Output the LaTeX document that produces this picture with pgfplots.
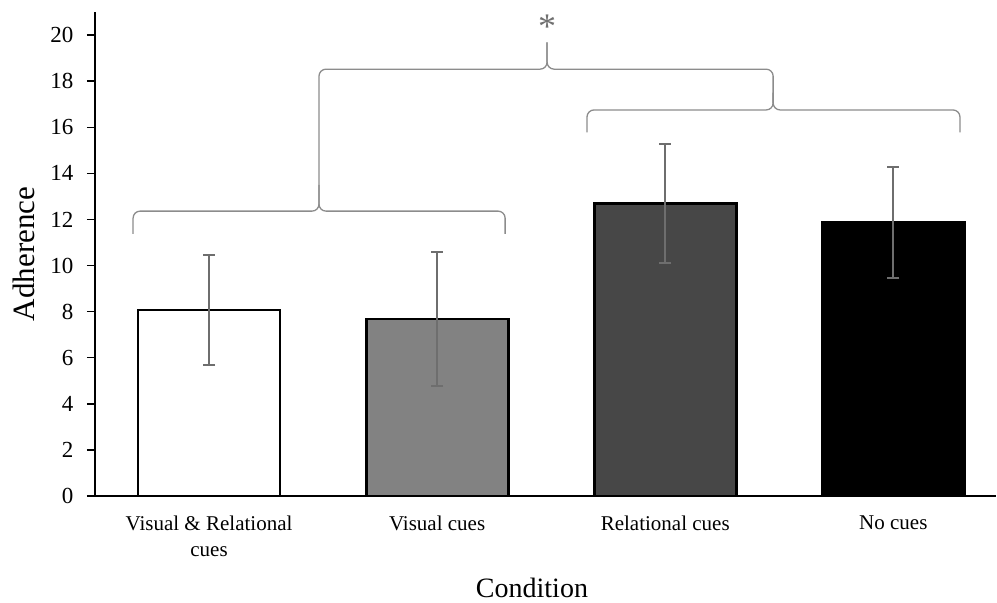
\documentclass[border=0pt]{standalone}
\usepackage{fontspec}
\setmainfont{Liberation Serif}
\usepackage{pgfplots}
\pgfplotsset{compat=1.18}
\definecolor{errgray}{HTML}{6E6E6E}
\definecolor{bracegray}{HTML}{8C8C8C}
\definecolor{bartwo}{HTML}{828282}
\definecolor{barthree}{HTML}{474747}
\definecolor{astgray}{HTML}{707070}
\begin{document}
\begin{tikzpicture}
\useasboundingbox (0,0) rectangle (997pt,603pt);
\begin{axis}[
  at={(95pt,107pt)}, anchor=south west,
  scale only axis, width=901pt, height=484pt,
  xmin=-0.5, xmax=3.45, ymin=0, ymax=21,
  axis lines*=left,
  axis line style={line width=1.6pt, black},
  xtick={0,1,2,3},
  xticklabels={{Visual \& Relational\\cues},{Visual cues},{Relational cues},{No cues}},
  x tick label style={align=center, font=\fontsize{21}{26.7}\selectfont, yshift=-8pt},
  major x tick style={draw=none},
  ytick={0,2,...,20},
  tick align=outside,
  major tick length=8pt,
  major y tick style={line width=1.4pt, black},
  y tick label style={font=\fontsize{23}{26}\selectfont, xshift=-10pt},
  /pgf/number format/assume math mode=true,
  ylabel={Adherence},
  ylabel style={at={(axis description cs:-0.0788,0.5)}, anchor=center, font=\fontsize{31}{36}\selectfont},
  xlabel={Condition},
  xlabel style={at={(axis description cs:0.485,-0.2100)}, anchor=base, inner sep=0pt, font=\fontsize{28}{32}\selectfont},
  ybar, bar width=142pt,
  clip=false,
  error bars/y dir=both, error bars/y explicit,
  error bars/error bar style={line width=2pt, errgray},
  error bars/error mark options={rotate=90, mark size=6pt, line width=2pt, errgray},
]
\addplot[fill=white, draw=black, line width=2.8pt, bar shift=0pt] coordinates {(0,8.07) +- (0,2.40)};
\addplot[fill=bartwo, draw=black, line width=2.8pt, bar shift=0pt] coordinates {(1,7.68) +- (0,2.89)};
\addplot[fill=barthree, draw=black, line width=2.8pt, bar shift=0pt] coordinates {(2,12.69) +- (0,2.58)};
\addplot[fill=black, draw=black, line width=2.8pt, bar shift=0pt] coordinates {(3,11.87) +- (0,2.39)};

\draw[bracegray, line width=1.3pt, rounded corners=7pt]
  (axis cs:-0.333,11.37) -- (axis cs:-0.333,12.36) -- (axis cs:0.482,12.36) -- (axis cs:0.482,18.52) -- (axis cs:1.482,18.52) -- (axis cs:1.482,19.68);
\draw[bracegray, line width=1.3pt, rounded corners=7pt]
  (axis cs:1.298,11.37) -- (axis cs:1.298,12.36) -- (axis cs:0.482,12.36) -- (axis cs:0.482,13.5);
\draw[bracegray, line width=1.3pt, rounded corners=7pt]
  (axis cs:1.482,19.68) -- (axis cs:1.482,18.52) -- (axis cs:2.473,18.52) -- (axis cs:2.473,16.75) -- (axis cs:1.657,16.75) -- (axis cs:1.657,15.78);
\draw[bracegray, line width=1.3pt, rounded corners=7pt]
  (axis cs:3.292,15.78) -- (axis cs:3.292,16.75) -- (axis cs:2.473,16.75) -- (axis cs:2.473,17.5);
\node[anchor=base, text=astgray, font=\fontsize{36}{40}\selectfont, inner sep=0pt] at (axis cs:1.482,19.83) {*};
\end{axis}
\end{tikzpicture}
\end{document}
